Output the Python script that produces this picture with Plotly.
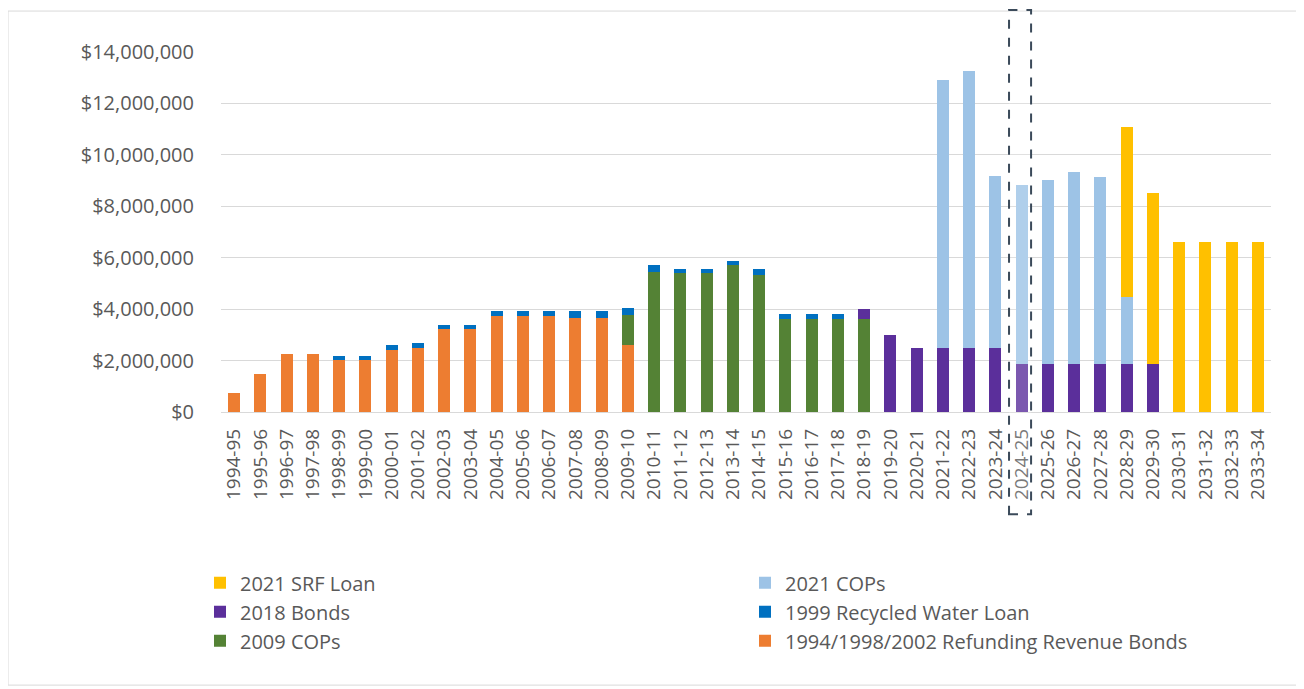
import plotly.graph_objects as go

# ---------------- data ----------------
categories = [
    "1994-95", "1995-96", "1996-97", "1997-98", "1998-99", "1999-00", "2000-01", "2001-02",
    "2002-03", "2003-04", "2004-05", "2005-06", "2006-07", "2007-08", "2008-09", "2009-10",
    "2010-11", "2011-12", "2012-13", "2013-14", "2014-15", "2015-16", "2016-17", "2017-18",
    "2018-19", "2019-20", "2020-21", "2021-22", "2022-23", "2023-24", "2024-25", "2025-26",
    "2026-27", "2027-28", "2028-29", "2029-30", "2030-31", "2031-32", "2032-33", "2033-34",
]

refunding_bonds = [
    740000, 1480000, 2240000, 2240000, 2010000, 2010000, 2420000, 2500000,
    3220000, 3220000, 3740000, 3740000, 3740000, 3650000, 3650000, 2590000,
    0, 0, 0, 0, 0, 0, 0, 0,
    0, 0, 0, 0, 0, 0, 0, 0,
    0, 0, 0, 0, 0, 0, 0, 0,
]

cops_2009 = [
    0, 0, 0, 0, 0, 0, 0, 0,
    0, 0, 0, 0, 0, 0, 0, 1190000,
    5460000, 5400000, 5410000, 5700000, 5310000, 3620000, 3620000, 3620000,
    3620000, 0, 0, 0, 0, 0, 0, 0,
    0, 0, 0, 0, 0, 0, 0, 0,
]

recycled_water_loan = [
    0, 0, 0, 0, 150000, 150000, 190000, 190000,
    160000, 160000, 200000, 200000, 200000, 260000, 260000, 270000,
    260000, 170000, 160000, 180000, 260000, 200000, 200000, 200000,
    0, 0, 0, 0, 0, 0, 0, 0,
    0, 0, 0, 0, 0, 0, 0, 0,
]

bonds_2018 = [
    0, 0, 0, 0, 0, 0, 0, 0,
    0, 0, 0, 0, 0, 0, 0, 0,
    0, 0, 0, 0, 0, 0, 0, 0,
    370000, 2980000, 2500000, 2500000, 2500000, 2500000, 1880000, 1880000,
    1880000, 1880000, 1880000, 1880000, 0, 0, 0, 0,
]

cops_2021 = [
    0, 0, 0, 0, 0, 0, 0, 0,
    0, 0, 0, 0, 0, 0, 0, 0,
    0, 0, 0, 0, 0, 0, 0, 0,
    0, 0, 0, 10400000, 10770000, 6670000, 6940000, 7160000,
    7450000, 7250000, 2580000, 0, 0, 0, 0, 0,
]

srf_loan_2021 = [
    0, 0, 0, 0, 0, 0, 0, 0,
    0, 0, 0, 0, 0, 0, 0, 0,
    0, 0, 0, 0, 0, 0, 0, 0,
    0, 0, 0, 0, 0, 0, 0, 0,
    0, 0, 6620000, 6620000, 6610000, 6610000, 6610000, 6610000,
]

y_tick_values = [0, 2000000, 4000000, 6000000, 8000000, 10000000, 12000000, 14000000]

# stack order: bottom first; third item = which legend column
series = [
    ("1994/1998/2002 Refunding Revenue Bonds", refunding_bonds, "#ED7D31", "legend2"),
    ("2009 COPs", cops_2009, "#548235", "legend"),
    ("1999 Recycled Water Loan", recycled_water_loan, "#0070C0", "legend2"),
    ("2018 Bonds", bonds_2018, "#5B2F9B", "legend"),
    ("2021 COPs", cops_2021, "#9DC3E6", "legend2"),
    ("2021 SRF Loan", srf_loan_2021, "#FFC000", "legend"),
]

FONT = "Open Sans"
GRAY = "#595959"

fig = go.Figure()
for name, vals, color, leg in series:
    fig.add_trace(go.Bar(
        x=categories, y=vals, name=name, legend=leg,
        marker=dict(color=color, line=dict(width=0)),
    ))

# page has an 8px body margin; work in page pixel coordinates
OFF = 8
W, H = 1304 - OFF, 689 - OFF
PL, PR, PT, PB = 221, 1271, 52, 412.5          # plot area in page px
L, R, T = PL - OFF, (OFF + W) - PR, PT - OFF
B = (OFF + H) - PB
pw = PR - PL
ph = PB - PT


def px_to_paper_x(px):
    return (px - PL) / pw


def px_to_paper_y(py):
    return (PB - py) / ph


legend_common = dict(
    orientation="v",
    traceorder="reversed",
    xanchor="left",
    yanchor="top",
    font=dict(family=FONT, size=20, color=GRAY),
    bgcolor="rgba(0,0,0,0)",
    tracegroupgap=0,
)

fig.update_layout(
    width=W, height=H,
    margin=dict(l=L, r=R, t=T, b=B),
    barmode="stack",
    bargap=0.54,
    plot_bgcolor="white",
    paper_bgcolor="white",
    font=dict(family=FONT, color=GRAY, size=18),
    showlegend=True,
    legend=dict(legend_common, x=px_to_paper_x(200), y=px_to_paper_y(564)),
    legend2=dict(legend_common, x=px_to_paper_x(745), y=px_to_paper_y(564)),
    xaxis=dict(
        type="category",
        tickangle=-90,
        tickfont=dict(family=FONT, size=19, color=GRAY),
        showgrid=False,
        showline=False,
        ticks="",
        ticklabelstandoff=12,
    ),
    yaxis=dict(
        range=[0, 14000000],
        tickvals=y_tick_values,
        tickformat="$,.0f",
        tickfont=dict(family=FONT, size=20, color=GRAY),
        showgrid=True,
        gridcolor="#D9D9D9",
        gridwidth=1.3,
        zeroline=True,
        zerolinecolor="#D9D9D9",
        zerolinewidth=1.3,
        showline=False,
        ticks="",
        ticklabelstandoff=26,
    ),
    shapes=[
        # outer chart frame
        dict(type="rect", xref="paper", yref="paper",
             x0=px_to_paper_x(8), x1=px_to_paper_x(1302),
             y0=px_to_paper_y(686), y1=px_to_paper_y(11),
             line=dict(color="#D9D9D9", width=1), fillcolor="rgba(0,0,0,0)",
             layer="below"),
        # dashed highlight around current year
        dict(type="rect", xref="x", yref="paper",
             x0=29.52, x1=30.36,
             y0=px_to_paper_y(515), y1=px_to_paper_y(10),
             line=dict(color="#3B4A5A", width=2, dash="dash"),
             fillcolor="rgba(255,255,255,0.2)",
             layer="above"),
    ],
)

fig.write_html("out.html")
